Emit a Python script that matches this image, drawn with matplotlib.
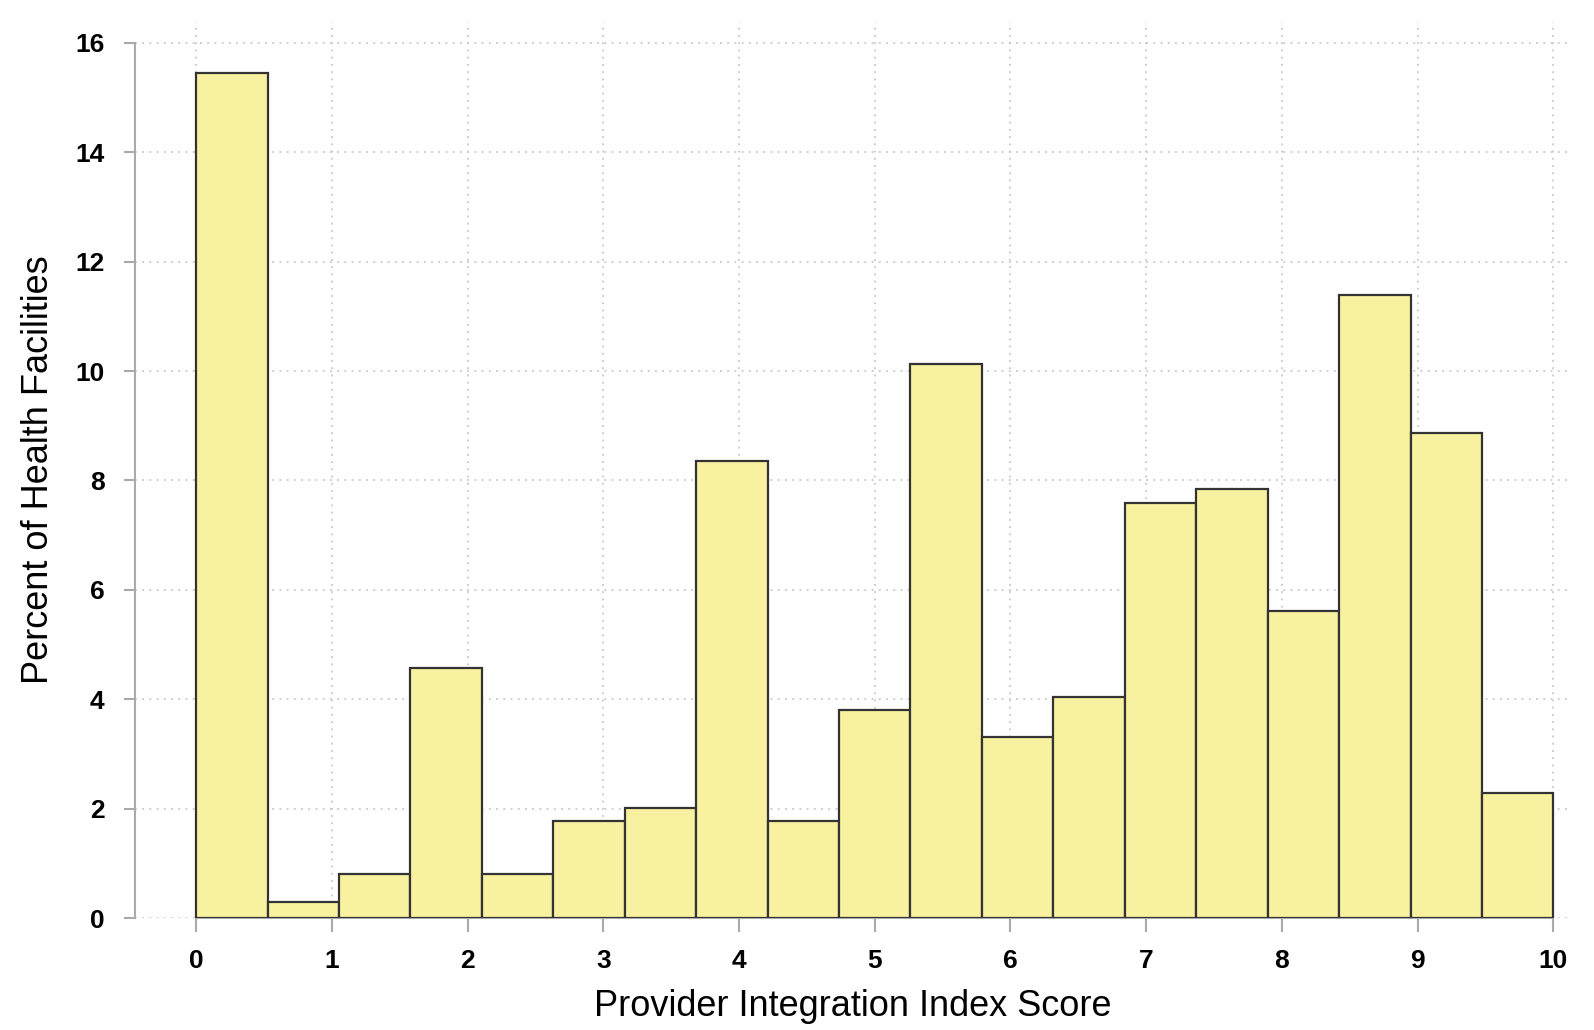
import numpy as np
import matplotlib
matplotlib.use("Agg")
import matplotlib.pyplot as plt

# Data
n_bins = 19
score_min, score_max = 0.0, 10.0
percent = [15.45, 0.30, 0.80, 4.57, 0.80, 1.77, 2.01, 8.35, 1.77, 3.81,
           10.13, 3.31, 4.05, 7.58, 7.84, 5.61, 11.39, 8.87, 2.29]
x_ticks = [0, 1, 2, 3, 4, 5, 6, 7, 8, 9, 10]
y_ticks = [0, 2, 4, 6, 8, 10, 12, 14, 16]
x_label = "Provider Integration Index Score"
y_label = "Percent of Health Facilities"

plt.rcParams['font.family'] = ['Liberation Sans', 'DejaVu Sans']

fig = plt.figure(figsize=(15.94, 10.30), dpi=100)
ax = fig.add_axes([0.0847, 0.1087, 0.9856 - 0.0847, 0.9786 - 0.1087])

edges = np.linspace(score_min, score_max, n_bins + 1)
ax.bar(edges[:-1], percent, width=np.diff(edges), align='edge',
       color='#f8f1a0', edgecolor='#333333', linewidth=1.6, zorder=3)

ax.set_xlim(-0.45, 10.13)
ax.set_ylim(0, 16.38)

ax.grid(True, linestyle=(0, (1, 3)), color='#c8c8c8', linewidth=1.3, zorder=0)

for s in ['top', 'right']:
    ax.spines[s].set_visible(False)
ax.spines['left'].set_position(('data', -0.45))
ax.spines['left'].set_bounds(0, 16)
ax.spines['bottom'].set_position(('data', 0))
ax.spines['bottom'].set_bounds(0, 10)
for s in ['left', 'bottom']:
    ax.spines[s].set_color('#aaaaaa')
    ax.spines[s].set_linewidth(1.5)

ax.tick_params(axis='y', direction='out', length=8, width=1.5, color='#aaaaaa',
               pad=14, labelsize=19)
ax.tick_params(axis='x', direction='out', length=10, width=1.5, color='#aaaaaa',
               pad=12, labelsize=19)

ax.set_xticks(x_ticks)
ax.set_yticks(y_ticks)
ax.set_xticklabels([str(t) for t in x_ticks])
ax.set_yticklabels([str(t) for t in y_ticks])
for lbl in ax.get_xticklabels() + ax.get_yticklabels():
    lbl.set_fontweight('bold')
    lbl.set_fontsize(19)

ax.set_xlabel(x_label, fontsize=26, labelpad=12)
ax.set_ylabel(y_label, fontsize=26, labelpad=14)

fig.savefig("out.png", dpi=100, facecolor='white')
